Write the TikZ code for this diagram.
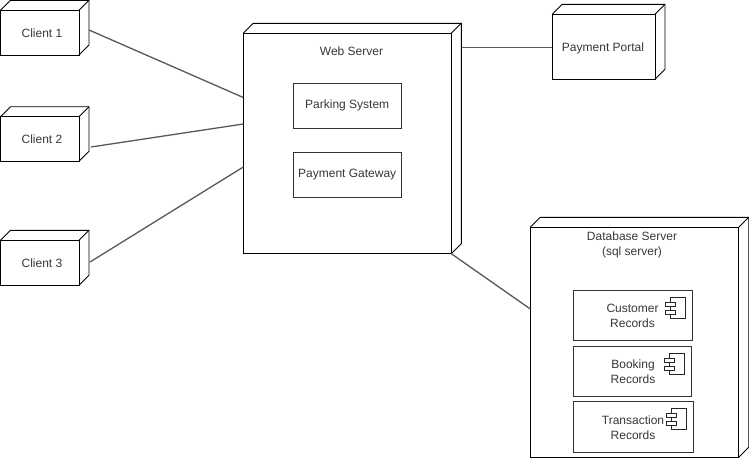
\documentclass[tikz,border=0pt]{standalone}
\usepackage{fontspec}
\setmainfont{Liberation Sans}
\tikzset{
  px/.style={x=1pt,y=-1pt},
  edge/.style={line width=0.9pt,draw=black},
  conn/.style={line width=1.3pt,draw=black!65},
  lbl/.style={font=\fontsize{12}{15}\selectfont,text=black!78,align=center,inner sep=0pt},
  box/.style={draw=black!80,line width=1pt,fill=white,inner sep=0pt,outer sep=0pt,rectangle},
  icon/.style={line width=0.75pt,draw=black!85},
}
% #1 name, #2 left, #3 top (of front), #4 right, #5 bottom, #6 depth
\newcommand{\cubenode}[6]{%
  \draw[edge] (#2,#3) -- (#2+#6,#3-#6) -- (#4+#6,#3-#6) -- (#4+#6,#5-#6) -- (#4,#5);
  \draw[edge] (#4,#3) -- (#4+#6,#3-#6);
  \node[draw=black,line width=0.9pt,rectangle,inner sep=0pt,outer sep=0pt,minimum width={(#4-#2)*1pt},minimum height={(#5-#3)*1pt},anchor=north west] (#1) at (#2,#3) {};
}
\newcommand{\compicon}[2]{%
  \draw[icon] (#1,#2) rectangle (#1+15.7,#2+21);
  \draw[icon,fill=white] (#1-5,#2+5.3) rectangle (#1+5,#2+9.3);
  \draw[icon,fill=white] (#1-5,#2+12.7) rectangle (#1+5,#2+16.7);
}
\begin{document}
\begin{tikzpicture}[px]
\useasboundingbox (0,0) rectangle (749,458);
\fill[white] (0,0) rectangle (749,458);
\cubenode{c1}{0.5}{10.3}{79}{55}{10}
\cubenode{c2}{0.5}{116.7}{79}{161.3}{10}
\cubenode{c3}{0.5}{240.3}{79}{285.3}{10}
\cubenode{web}{243.3}{33.3}{451.3}{253.7}{10}
\cubenode{portal}{552.3}{14.3}{655}{79.3}{10}
\cubenode{db}{530.3}{227.3}{738.7}{457.3}{10}
\node[lbl] (t1) at (42,33) {Client 1};
\node[lbl] (t2) at (42,139) {Client 2};
\node[lbl] (t3) at (42,263) {Client 3};
\node[lbl] (t4) at (603,48) {Payment Portal};
\node[lbl] (t5) at (351.5,51) {Web Server};
\node[lbl] (t6) at (632,245) {Database Server\\(sql server)};
\node[box,minimum width=107.7pt,minimum height=45pt,lbl] (ps) at (347.2,105.8) {Parking System};
\node[box,minimum width=107.7pt,minimum height=45pt,lbl] (pg) at (347.2,174.8) {Payment Gateway};
\node[box,minimum width=119.4pt,minimum height=50pt] (cr) at (633,315.3) {};
\node[box,minimum width=118.4pt,minimum height=50pt] (br) at (632.5,371.3) {};
\node[box,minimum width=120.4pt,minimum height=51pt] (tr) at (633.5,426.8) {};
\node[lbl] (t7) at (632.5,315.5) {Customer\\Records};
\node[lbl] (t8) at (633,371.5) {Booking\\Records};
\node[lbl] (t9) at (633,427.5) {Transaction\\Records};
\compicon{670}{297.3}
\compicon{669}{353.3}
\compicon{671}{408.3}
\draw[conn] ([shift={(10,-2.65)}]c1.east) -- ([shift={(0,-46)}]web.west);
\draw[conn] ([shift={(12,8)}]c2.east) -- ([shift={(0,-19.5)}]web.west);
\draw[conn] ([shift={(11,-0.8)}]c3.east) -- ([shift={(0,23.5)}]web.west);
\draw[conn] ([shift={(10.2,-96.2)}]web.east) -- ([shift={(0,0.5)}]portal.west);
\draw[conn] (web.south east) -- ([shift={(0,-33.3)}]db.west);
\end{tikzpicture}
\end{document}
